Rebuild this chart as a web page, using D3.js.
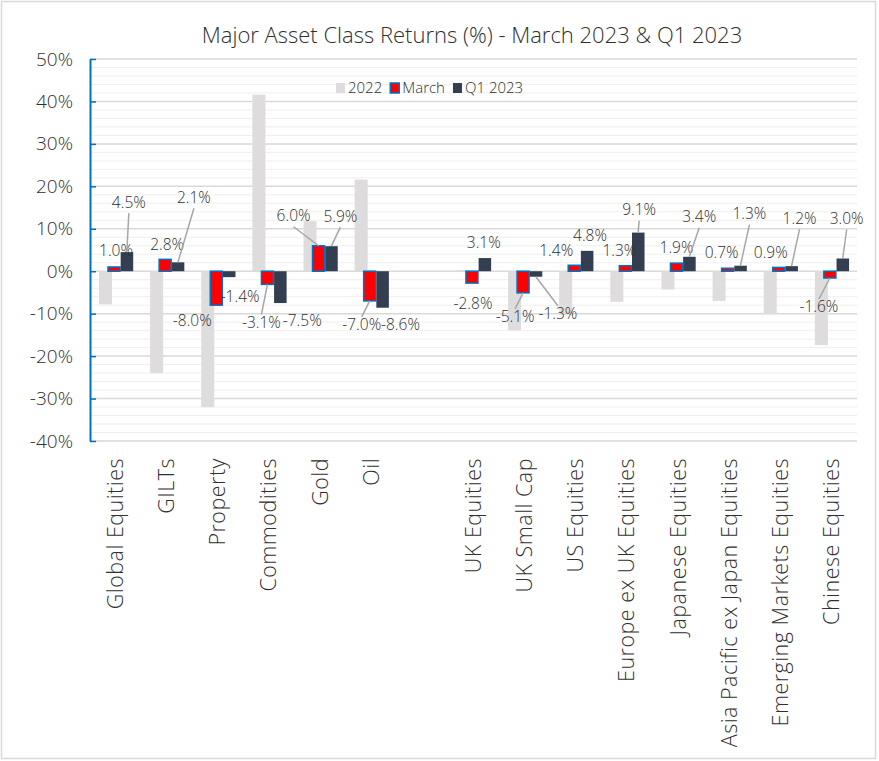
<!DOCTYPE html>
<html>
<head>
<meta charset="utf-8">
<script src="https://cdn.jsdelivr.net/npm/d3@7"></script>
<style>
  body { margin: 0; background: #fff; }
  svg text { font-family: "Open Sans", "Noto Sans", sans-serif; font-weight: 300; fill: #303030; }
</style>
</head>
<body>
<svg id="chart"></svg>
<script>
// data
var categories = ["Global Equities", "GILTs", "Property", "Commodities", "Gold", "Oil",
  "UK Equities", "UK Small Cap", "US Equities", "Europe ex UK Equities", "Japanese Equities",
  "Asia Pacific ex Japan Equities", "Emerging Markets Equities", "Chinese Equities"];
var ret2022 = [-7.8, -24.0, -32.0, 41.6, 11.8, 21.6, 0.3, -13.9, -10.3, -7.2, -4.3, -7.0, -10.1, -17.4];
var retMarch = [1.0, 2.8, -8.0, -3.1, 6.0, -7.0, -2.8, -5.1, 1.4, 1.3, 1.9, 0.7, 0.9, -1.6];
var retQ1 = [4.5, 2.1, -1.4, -7.5, 5.9, -8.6, 3.1, -1.3, 4.8, 9.1, 3.4, 1.3, 1.2, 3.0];
var seriesNames = ["2022", "March", "Q1 2023"];
var yTicks = [-40, -30, -20, -10, 0, 10, 20, 30, 40, 50];

// label placement (offset from bar end, px) and leader line flag
var marchLabel = [[2,-16,0],[2,-15,0],[-24,15,0],[-6,38,1],[-25,-30,1],[-8,24,1],
  [1,20,0],[-8,24,1],[-18,-15,0],[-6,-15,0],[0,-16,0],[-6,-16,0],[-8,-15,0],[-11,29,1]];
var q1Label = [[2,-50,1],[16,-65,1],[11,19,0],[22,18,0],[9,-30,1],[18,17,0],
  [-1,-15,0],[22,37,1],[3,-15,0],[1,-23,1],[10,-40,1],[9,-52,1],[8,-48,1],[4,-40,1]];

var w = 879, h = 761;
var mLeft = 90, mRight = 857, mTop = 59, mBottom = 441;

var svg = d3.select("#chart").attr("width", w).attr("height", h);

svg.append("rect")
  .attr("x", 1.5).attr("y", 1.5).attr("width", w - 5).attr("height", h - 4)
  .attr("fill", "#fff").attr("stroke", "#d9d9d9").attr("stroke-width", 1.5);

// slots: gap after Oil
var slots = categories.slice(0, 6).concat(["__gap"], categories.slice(6));

var x = d3.scaleBand().domain(slots).range([mLeft, mRight]).padding(0);
var y = d3.scaleLinear().domain([-40, 50]).range([mBottom, mTop]);
var bw = x.bandwidth();

// minor grid
svg.append("g").selectAll("line")
  .data(d3.range(-40, 51, 2).filter(function (d) { return d % 10 != 0; }))
  .enter().append("line")
    .attr("x1", mLeft).attr("x2", mRight)
    .attr("y1", function (d) { return y(d); }).attr("y2", function (d) { return y(d); })
    .attr("stroke", "#efefef").attr("stroke-width", 1);

// major grid
svg.append("g").selectAll("line")
  .data(yTicks)
  .enter().append("line")
    .attr("x1", mLeft).attr("x2", mRight)
    .attr("y1", function (d) { return y(d); }).attr("y2", function (d) { return y(d); })
    .attr("stroke", "#d9d9d9").attr("stroke-width", 1.5);

var rows = categories.map(function (c, i) {
  return { cat: c, v2022: ret2022[i], march: retMarch[i], q1: retQ1[i], i: i };
});

function barY(v) { return Math.min(y(v), y(0)); }
function barH(v) { return Math.abs(y(v) - y(0)); }

// 2022 bars (behind)
svg.append("g").selectAll("rect")
  .data(rows).enter().append("rect")
    .attr("x", function (d) { return x(d.cat) + bw * 0.176; })
    .attr("width", bw * 0.254)
    .attr("y", function (d) { return barY(d.v2022); })
    .attr("height", function (d) { return barH(d.v2022); })
    .attr("fill", "#dedcdc");

// March bars
svg.append("g").selectAll("rect")
  .data(rows).enter().append("rect")
    .attr("x", function (d) { return x(d.cat) + bw * 0.352; })
    .attr("width", bw * 0.235)
    .attr("y", function (d) { return barY(d.march); })
    .attr("height", function (d) { return barH(d.march); })
    .attr("fill", "#ff0000").attr("stroke", "#0070c0").attr("stroke-width", 1.5);

// Q1 bars
svg.append("g").selectAll("rect")
  .data(rows).enter().append("rect")
    .attr("x", function (d) { return x(d.cat) + bw * 0.6; })
    .attr("width", bw * 0.245)
    .attr("y", function (d) { return barY(d.q1); })
    .attr("height", function (d) { return barH(d.q1); })
    .attr("fill", "#333f50");

// y axis
var yAxis = d3.axisLeft(y).tickValues(yTicks)
  .tickFormat(function (d) { return d + "%"; })
  .tickSizeInner(-6).tickSizeOuter(0).tickPadding(17);

var ya = svg.append("g").attr("transform", "translate(" + mLeft + ",0)").call(yAxis);
ya.select(".domain").attr("stroke", "#0070c0").attr("stroke-width", 2);
ya.selectAll(".tick line").attr("stroke", "#0070c0").attr("stroke-width", 1.5);
ya.selectAll(".tick text").style("font-size", "19px").style("font-family", null);

// category labels
var xa = svg.append("g").attr("transform", "translate(0," + mBottom + ")")
  .call(d3.axisBottom(x).tickSize(0).tickFormat(function (d) { return d == "__gap" ? "" : d; }));
xa.select(".domain").remove();
xa.selectAll(".tick text")
  .attr("transform", "rotate(-90)")
  .attr("text-anchor", "end")
  .attr("x", -17).attr("y", 0).attr("dy", "0.35em")
  .style("font-size", "21.5px").style("letter-spacing", "0.5px").style("font-family", null);

// data labels
function fmt(v) { return v.toFixed(1) + "%"; }

function addLabels(key, offs, frac) {
  var g = svg.append("g");
  rows.forEach(function (d) {
    var v = d[key];
    var o = offs[d.i];
    var bx = x(d.cat) + bw * frac;
    var by = y(v);
    var lx = bx + o[0], ly = by + o[1];
    if (o[2]) {
      var sy = o[1] < 0 ? ly + 11 : ly - 8;
      g.append("line")
        .attr("x1", lx).attr("y1", sy).attr("x2", bx).attr("y2", by)
        .attr("stroke", "#a6a6a6").attr("stroke-width", 1.5);
    }
    g.append("text")
      .attr("x", lx).attr("y", ly).attr("dy", "0.35em")
      .attr("text-anchor", "middle")
      .style("font-size", "15.5px")
      .text(fmt(v));
  });
}
addLabels("march", marchLabel, 0.47);
addLabels("q1", q1Label, 0.72);

// title
svg.append("text")
  .attr("x", 472).attr("y", 35).attr("dy", "0.35em")
  .attr("text-anchor", "middle")
  .style("font-size", "22px")
  .text("Major Asset Class Returns (%) - March 2023 & Q1 2023");

// legend
var legendColors = ["#dedcdc", "#ff0000", "#333f50"];
var lg = svg.append("g").attr("transform", "translate(336,88)");
var lx0 = 0;
seriesNames.forEach(function (name, i) {
  var item = lg.append("g").attr("transform", "translate(" + lx0 + ",0)");
  item.append("rect")
    .attr("x", 0).attr("y", -5).attr("width", 9).attr("height", 10)
    .attr("fill", legendColors[i])
    .attr("stroke", i == 1 ? "#0070c0" : "none").attr("stroke-width", 1.5);
  var t = item.append("text")
    .attr("x", 12).attr("y", 0).attr("dy", "0.35em")
    .style("font-size", "15px").text(name);
  lx0 += 12 + t.node().getComputedTextLength() + 8;
});
</script>
</body>
</html>
